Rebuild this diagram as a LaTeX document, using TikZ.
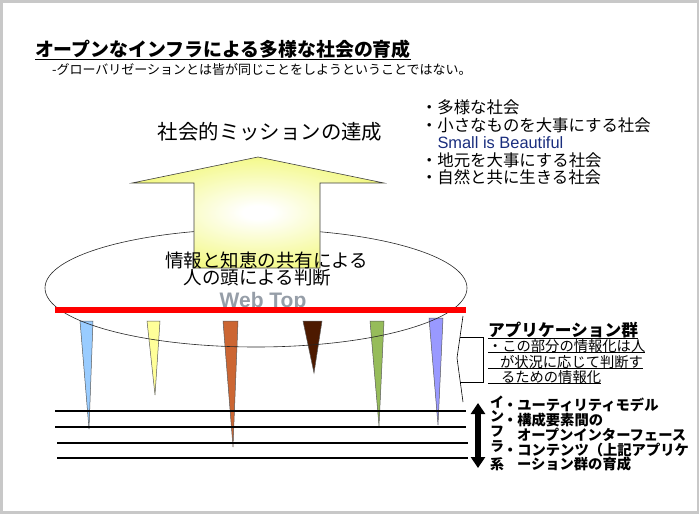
\documentclass[tikz,border=0pt]{standalone}
\usepackage{fontspec}
\setmainfont{Liberation Sans}
\newfontfamily\jp{Noto Sans CJK JP}
\newfontfamily\lat{Liberation Sans}
\usetikzlibrary{arrows.meta}
\newcommand\myfs[1]{\fontsize{#1}{#1}\selectfont}
\definecolor{arrowyellow}{RGB}{236,245,60}
\definecolor{frameg}{RGB}{200,200,200}
\definecolor{webgray}{RGB}{150,158,168}
\definecolor{smallblue}{RGB}{25,45,125}
\definecolor{tblue}{RGB}{153,204,255}
\definecolor{tyellow}{RGB}{255,255,153}
\definecolor{torange}{RGB}{204,102,51}
\definecolor{tbrown}{RGB}{77,26,0}
\definecolor{tgreen}{RGB}{150,188,90}
\definecolor{tpurple}{RGB}{153,153,255}
\pgfdeclareradialshading{arrowshade}{\pgfpoint{0bp}{0bp}}{color(0bp)=(white); color(3bp)=(white); color(40bp)=(arrowyellow); color(50bp)=(arrowyellow)}
\begin{document}
\begin{tikzpicture}[x=1pt,y=-1pt,
  txt/.style={inner sep=0pt, outer sep=0pt},
  tri/.style={draw=black!65, line width=0.5pt},
  layer/.style={line width=2.6pt, black},
  ul/.style={line width=1pt, black}]
\useasboundingbox (0,0) rectangle (700,516);
\draw[frameg, line width=2.6pt] (1.5,1.5) rectangle (698,512.5);

% application spikes
\filldraw[tri, fill=tblue]   (80,321) -- (93,321) -- (89,429) -- cycle;
\filldraw[tri, fill=tyellow] (147,321) -- (160,321) -- (155,395) -- cycle;
\filldraw[tri, fill=torange] (223,321) -- (238,321) -- (233,447) -- cycle;
\filldraw[tri, fill=tbrown]  (303,321) -- (322,321) -- (314,373) -- cycle;
\filldraw[tri, fill=tgreen]  (370,321) -- (384,321) -- (379,426) -- cycle;
\filldraw[tri, fill=tpurple] (429,318) -- (443,318) -- (438,425) -- cycle;

% infrastructure layers
\draw[layer] (55,411) -- (466,411);
\draw[layer] (55,427) -- (466,427);
\draw[layer] (57,443) -- (468,443);
\draw[layer] (57,458) -- (468,458);

% ellipse
\draw[line width=0.6pt, black!85] (256,288) ellipse [x radius=211, y radius=59];

% big arrow
\shadedraw[shading=arrowshade, draw=black!75, line width=0.6pt]
  (194,268) -- (194,183) -- (132,183) -- (258,157) -- (384,183) -- (320,183) -- (320,268) -- cycle;

% texts
\node[txt, anchor=west, font=\jp\bfseries\myfs{18.9}] (title) at (35,49.5) {オープンなインフラによる多様な社会の育成};
\draw[line width=1.3pt] ([yshift=-0.5pt]title.south west) -- ([yshift=-0.5pt]title.south east);
\node[txt, anchor=west, font=\jp\myfs{13}] (sub) at (52,70) {-グローバリゼーションとは皆が同じことをしようということではない。};

\node[txt, anchor=west, font=\jp\myfs{16.4}] (b1) at (421,107) {・多様な社会};
\node[txt, anchor=west, font=\jp\myfs{16.4}] (b2) at (421,125) {・小さなものを大事にする社会};
\node[txt, anchor=base west, font=\lat\myfs{16.4}, text=smallblue] (b3) at (437.5,148) {Small is Beautiful};
\node[txt, anchor=west, font=\jp\myfs{16.4}] (b4) at (421,160) {・地元を大事にする社会};
\node[txt, anchor=west, font=\jp\myfs{16.4}] (b5) at (421,177) {・自然と共に生きる社会};

\node[txt, font=\jp\myfs{20.4}] (mission) at (270,132) {社会的ミッションの達成};

\node[txt, font=\jp\myfs{18.5}] (share1) at (266.5,260) {情報と知恵の共有による};
\node[txt, font=\jp\myfs{18.5}] (share2) at (257.5,278) {人の頭による判断};
\node[txt, anchor=base, font=\lat\bfseries\myfs{21}, text=webgray] (web) at (263,307) {Web Top};

% red Web Top bar
\draw[red, line width=6pt] (55,310) -- (466,310);

% bracket callout
\coordinate (k1) at (463,316);
\coordinate (k2) at (457,358);
\coordinate (k3) at (463,402);
\coordinate (k4) at (460,337);
\coordinate (k5) at (483,337);
\coordinate (k6) at (483,382);
\coordinate (k7) at (460.3,382);
\draw[line width=0.6pt] (k1) -- (k2) -- (k3);
\draw[line width=0.8pt] (k4) -- (k5) -- (k6) -- (k7);

\node[txt, anchor=west, font=\jp\bfseries\myfs{16.7}] (app) at (488,330) {アプリケーション群};
\draw[ul] ([yshift=-0.5pt]app.south west) -- ([yshift=-0.5pt]app.south east);
\node[txt, anchor=west, font=\jp\myfs{14.3}] (ap1) at (488,346) {・この部分の情報化は人};
\node[txt, anchor=west, font=\jp\myfs{14.3}] (ap2) at (488,362) {\hspace*{12pt}が状況に応じて判断す};
\node[txt, anchor=west, font=\jp\myfs{14.3}] (ap3) at (488,377) {\hspace*{13pt}るための情報化};
\draw[ul] ([yshift=-0.3pt]ap1.south west) -- ([yshift=-0.3pt]ap1.south east);
\draw[ul] ([yshift=-0.3pt]ap2.south west) -- ([yshift=-0.3pt]ap2.south east);
\draw[ul] ([yshift=-0.3pt]ap3.south west) -- ([yshift=-0.3pt]ap3.south east);

% double arrow
\coordinate (da1) at (478,403);
\coordinate (da2) at (478,468);
\draw[line width=5.5pt, {Triangle[length=11pt,width=14pt]}-{Triangle[length=11pt,width=14pt]}] (da1) -- (da2);

\node[txt, font=\jp\bfseries\myfs{14}] (in1) at (497,402) {イ};
\node[txt, font=\jp\bfseries\myfs{14}] (in2) at (497,416) {ン};
\node[txt, font=\jp\bfseries\myfs{14}] (in3) at (497,432) {フ};
\node[txt, font=\jp\bfseries\myfs{14}] (in4) at (497,447) {ラ};
\node[txt, font=\jp\bfseries\myfs{14}] (in5) at (497,464) {系};

\node[txt, anchor=west, font=\jp\bfseries\myfs{14.3}] (r1) at (503,405) {・ユーティリティモデル};
\node[txt, anchor=west, font=\jp\bfseries\myfs{14.3}] (r2) at (503,420) {・構成要素間の};
\node[txt, anchor=west, font=\jp\bfseries\myfs{14.3}] (r3) at (517,435) {オープンインターフェース};
\node[txt, anchor=west, font=\jp\bfseries\myfs{14.3}] (r4) at (503,450) {・コンテンツ（上記アプリケ};
\node[txt, anchor=west, font=\jp\bfseries\myfs{14.3}] (r5) at (517,464) {ーション群の育成};
\end{tikzpicture}
\end{document}
